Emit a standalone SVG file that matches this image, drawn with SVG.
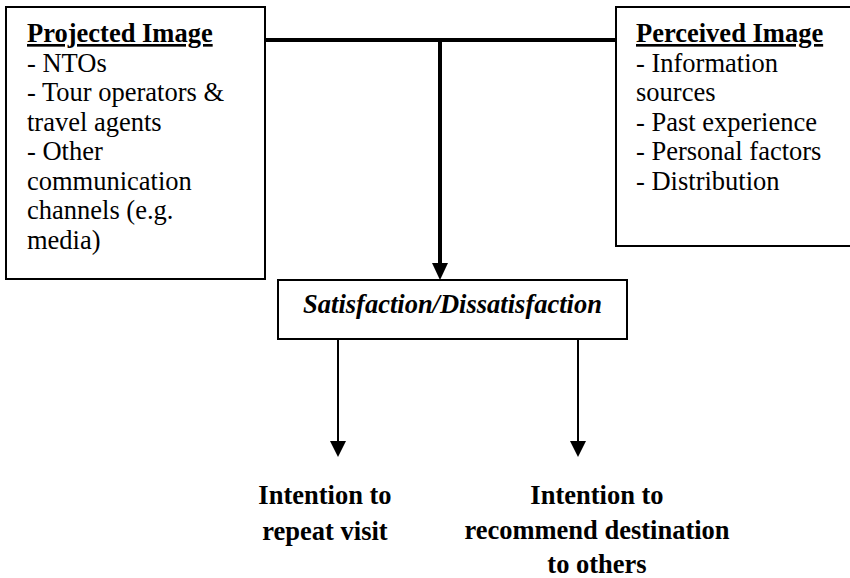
<svg xmlns="http://www.w3.org/2000/svg" width="850" height="578" viewBox="0 0 850 578">
<defs>
<style>
.box{fill:#fff;stroke:#000;stroke-width:2}
.t{font-family:'Liberation Serif','Times New Roman',serif;font-size:26.5px;fill:#000}
.h{font-weight:bold;text-decoration:underline}
.b{font-weight:bold}
.bi{font-weight:bold;font-style:italic}
.c{text-anchor:middle}
.thick{stroke:#000;stroke-width:4;fill:none}
.thin{stroke:#000;stroke-width:2;fill:none}
.head{fill:#000}
</style>
</defs>
<rect width="850" height="578" fill="#fff"/>
<g id="connectors">
<line class="thick" x1="265" y1="40" x2="616" y2="40"/>
<line class="thick" x1="440" y1="40" x2="440" y2="265"/>
<polygon class="head" points="432,263 448,263 440,280"/>
<line class="thin" x1="338" y1="339" x2="338" y2="443"/>
<polygon class="head" points="330,441 346,441 338,457"/>
<line class="thin" x1="578" y1="339" x2="578" y2="443"/>
<polygon class="head" points="570,441 586,441 578,457"/>
</g>
<g id="projected">
<rect class="box" x="6" y="7" width="259" height="272"/>
<text class="t h" x="27" y="42">Projected Image</text>
<text class="t" x="27" y="71.5">- NTOs</text>
<text class="t" x="27" y="101">- Tour operators &amp;</text>
<text class="t" x="27" y="130.5">travel agents</text>
<text class="t" x="27" y="160">- Other</text>
<text class="t" x="27" y="189.5">communication</text>
<text class="t" x="27" y="219">channels (e.g.</text>
<text class="t" x="27" y="248.5">media)</text>
</g>
<g id="perceived">
<rect class="box" x="616" y="7" width="240" height="239"/>
<text class="t h" x="636" y="42">Perceived Image</text>
<text class="t" x="636" y="71.5">- Information</text>
<text class="t" x="636" y="101">sources</text>
<text class="t" x="636" y="130.5">- Past experience</text>
<text class="t" x="636" y="160">- Personal factors</text>
<text class="t" x="636" y="189.5">- Distribution</text>
</g>
<g id="satisfaction">
<rect class="box" x="278" y="280" width="349" height="59"/>
<text class="t bi c" x="452.5" y="313">Satisfaction/Dissatisfaction</text>
</g>
<g id="repeat">
<text class="t b c" x="325" y="504">Intention to</text>
<text class="t b c" x="325" y="540">repeat visit</text>
</g>
<g id="recommend">
<text class="t b c" x="597" y="504">Intention to</text>
<text class="t b c" x="597" y="539">recommend destination</text>
<text class="t b c" x="597" y="573">to others</text>
</g>
</svg>
